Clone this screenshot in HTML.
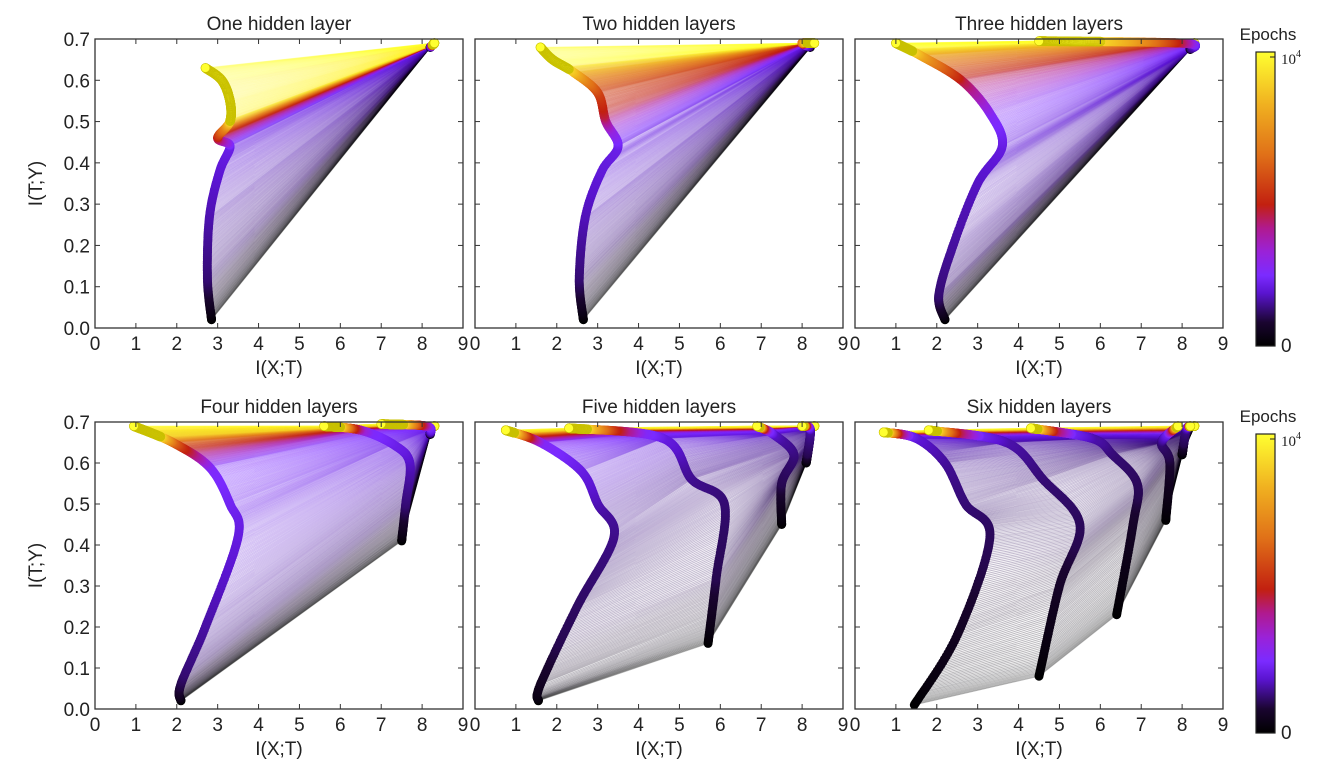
<!DOCTYPE html>
<html><head><meta charset="utf-8">
<style>
html,body{margin:0;padding:0;background:#fff;}
svg{display:block;font-family:"Liberation Sans","DejaVu Sans",sans-serif;}
</style></head>
<body>
<svg id="s" width="1324" height="772" xmlns="http://www.w3.org/2000/svg">
<defs>
<linearGradient id="cb" x1="0" y1="1" x2="0" y2="0">
<stop offset="0" stop-color="#000000"/>
<stop offset="0.08" stop-color="#1a0530"/>
<stop offset="0.18" stop-color="#5a14d0"/>
<stop offset="0.24" stop-color="#7b2bff"/>
<stop offset="0.32" stop-color="#9a22d8"/>
<stop offset="0.40" stop-color="#b01a90"/>
<stop offset="0.48" stop-color="#c22010"/>
<stop offset="0.65" stop-color="#e07018"/>
<stop offset="0.82" stop-color="#f0b020"/>
<stop offset="1" stop-color="#ffff30"/>
</linearGradient>
</defs>
<g id="plots"></g>
</svg>
<script>
var stops=[[0,[0,0,0]],[0.08,[26,5,48]],[0.18,[90,20,208]],[0.24,[123,43,255]],[0.32,[154,34,216]],[0.40,[176,26,144]],[0.48,[194,32,16]],[0.65,[224,112,24]],[0.82,[240,176,32]],[1,[255,255,48]]];
function cmap(t){t=Math.max(0,Math.min(1,t));for(var i=1;i<stops.length;i++){if(t<=stops[i][0]){var a=stops[i-1],b=stops[i];var f=(t-a[0])/(b[0]-a[0]);var c=a[1].map(function(v,k){return Math.round(v+(b[1][k]-v)*f);});return 'rgb('+c.join(',')+')';}}return 'rgb(255,255,48)';}
function lin(kp,t){for(var i=1;i<kp.length;i++){if(t<=kp[i][0]){var a=kp[i-1],b=kp[i];var f=(t-a[0])/((b[0]-a[0])||1);return a[1]+(b[1]-a[1])*f;}}return kp[kp.length-1][1];}
function interp(kp,t){ if(kp.length==1)return [kp[0][0],kp[0][1]];
 var n=kp.length;
 for(var i=1;i<n;i++){ if(t<=kp[i][2]||i==n-1){
   var p1=kp[i-1],p2=kp[i],p0=kp[Math.max(0,i-2)],p3=kp[Math.min(n-1,i+1)];
   var f=(t-p1[2])/((p2[2]-p1[2])||1);f=Math.max(0,Math.min(1,f));
   var f2=f*f,f3=f2*f;
   function cr(a,b,c,d){return 0.5*((2*b)+(-a+c)*f+(2*a-5*b+4*c-d)*f2+(-a+3*b-3*c+d)*f3);}
   return [cr(p0[0],p1[0],p2[0],p3[0]),cr(p0[1],p1[1],p2[1],p3[1])];}}
}
var panels=[
 {x0:95,y0:39,x1:463,y1:328,title:"One hidden layer",ylab:true,
  ct:[[0,0],[0.1,0.12],[0.33,0.21],[0.45,0.45],[0.55,0.7],[0.62,0.97],[1,1]],layers:[
  [[8.2,0.68,0],[8.3,0.69,1]],
  [[2.85,0.02,0],[2.75,0.12,0.1],[2.8,0.27,0.2],[3.05,0.38,0.27],[3.3,0.44,0.33],[3.0,0.46,0.45],[3.3,0.5,0.6],[3.3,0.55,0.75],[3.1,0.6,0.88],[2.7,0.63,1]]]},
 {x0:475,y0:39,x1:843,y1:328,title:"Two hidden layers",ylab:false,
  ct:[[0,0],[0.1,0.12],[0.3,0.21],[0.38,0.3],[0.45,0.45],[0.55,0.55],[0.65,0.68],[0.75,0.85],[0.82,1],[1,1]],layers:[
  [[8.2,0.68,0],[8.0,0.69,0.6],[8.3,0.69,1]],
  [[2.65,0.02,0],[2.55,0.12,0.1],[2.7,0.27,0.2],[3.1,0.38,0.26],[3.5,0.44,0.3],[3.2,0.5,0.42],[3.0,0.57,0.55],[2.4,0.62,0.75],[1.9,0.65,0.88],[1.6,0.68,1]]]},
 {x0:855,y0:39,x1:1223,y1:328,title:"Three hidden layers",ylab:false,
  ct:[[0,0],[0.1,0.12],[0.3,0.2],[0.4,0.26],[0.52,0.45],[0.7,0.8],[0.85,1],[1,1]],layers:[
  [[8.25,0.68,0],[8.3,0.69,1]],
  [[8.2,0.675,0],[8.0,0.69,0.5],[4.5,0.695,1]],
  [[2.2,0.02,0],[2.05,0.08,0.1],[2.4,0.2,0.17],[3.0,0.35,0.23],[3.6,0.44,0.3],[3.3,0.52,0.4],[2.6,0.6,0.52],[1.6,0.66,0.7],[1.0,0.69,1]]]},
 {x0:95,y0:422,x1:463,y1:709,title:"Four hidden layers",ylab:true,
  ct:[[0,0],[0.1,0.12],[0.26,0.2],[0.45,0.25],[0.6,0.5],[0.75,0.9],[1,1]],layers:[
  [[8.3,0.69,0],[8.3,0.69,1]],
  [[8.2,0.67,0],[8.1,0.69,0.5],[7.0,0.695,1]],
  [[7.5,0.41,0],[7.6,0.5,0.1],[7.7,0.6,0.2],[7.3,0.645,0.3],[6.5,0.68,0.5],[5.6,0.69,1]],
  [[2.1,0.02,0],[2.1,0.06,0.08],[2.7,0.2,0.16],[3.5,0.42,0.26],[3.3,0.5,0.34],[2.8,0.59,0.45],[1.9,0.65,0.65],[0.95,0.69,1]]]},
 {x0:475,y0:422,x1:843,y1:709,title:"Five hidden layers",ylab:false,
  ct:[[0,0],[0.1,0.1],[0.3,0.15],[0.4,0.2],[0.55,0.26],[0.7,0.5],[0.85,0.9],[1,1]],layers:[
  [[8.3,0.69,0],[8.3,0.69,1]],
  [[8.1,0.6,0],[8.2,0.68,0.3],[8.0,0.69,1]],
  [[7.5,0.45,0],[7.5,0.55,0.1],[7.8,0.62,0.2],[7.3,0.67,0.35],[6.9,0.69,1]],
  [[5.7,0.16,0],[5.9,0.32,0.1],[6.1,0.5,0.18],[5.3,0.56,0.25],[4.6,0.66,0.4],[2.3,0.685,1]],
  [[1.55,0.02,0],[1.6,0.06,0.05],[2.5,0.25,0.14],[3.4,0.42,0.24],[3.0,0.5,0.32],[2.6,0.58,0.4],[1.6,0.65,0.55],[0.75,0.68,1]]]},
 {x0:855,y0:422,x1:1223,y1:709,title:"Six hidden layers",ylab:false,
  ct:[[0,0],[0.15,0.1],[0.3,0.13],[0.45,0.17],[0.6,0.22],[0.75,0.45],[0.9,0.9],[1,1]],layers:[
  [[8.3,0.69,0],[8.3,0.69,1]],
  [[8.0,0.62,0],[8.1,0.68,0.3],[8.2,0.69,1]],
  [[7.6,0.46,0],[7.7,0.6,0.12],[7.5,0.65,0.25],[7.9,0.69,1]],
  [[6.4,0.23,0],[6.8,0.45,0.1],[6.9,0.55,0.18],[6.3,0.62,0.26],[5.8,0.66,0.4],[4.3,0.685,1]],
  [[4.5,0.08,0],[5.0,0.3,0.1],[5.5,0.45,0.18],[4.6,0.56,0.26],[3.7,0.65,0.4],[1.8,0.68,1]],
  [[1.45,0.01,0],[2.5,0.18,0.08],[3.3,0.42,0.18],[2.7,0.5,0.26],[2.2,0.6,0.35],[1.5,0.66,0.5],[0.7,0.675,1]]]}
];
var out=[];
panels.forEach(function(p){
 var sx=function(x){return p.x0+(p.x1-p.x0)*x/9;}, sy=function(y){return p.y1-(p.y1-p.y0)*y/0.7;};
 var cid='c'+p.x0+'_'+p.y0;
 out.push('<defs><clipPath id="'+cid+'"><rect x="'+p.x0+'" y="'+(p.y0-8)+'" width="'+(p.x1-p.x0+8)+'" height="'+(p.y1-p.y0+8)+'"/></clipPath></defs>');
 out.push('<g clip-path="url(#'+cid+')">');
 var N=500;
 for(var i=0;i<=N;i++){var t=i/N;var c=lin(p.ct,t);var col=cmap(c);var pts=p.layers.map(function(L){var q=interp(L,t);return sx(q[0]).toFixed(1)+','+sy(q[1]).toFixed(1);});
  out.push('<polyline points="'+pts.join(' ')+'" fill="none" stroke="'+col+'" stroke-opacity="'+(c>0.95?0.12:0.28)+'" stroke-width="1"/>');}
 p.layers.forEach(function(L){ if(L.length<2)return; var M=350;
  for(var i=0;i<=M;i++){var t=i/M;var q=interp(L,t);var c=lin(p.ct,t);var big=c>0.9;
   out.push('<circle cx="'+sx(q[0]).toFixed(1)+'" cy="'+sy(q[1]).toFixed(1)+'" r="4.5" fill="'+cmap(c)+'"'+(big?' stroke="#c8c000" stroke-width="0.6"':'')+'/>');}
 });
 out.push('</g>');
 out.push('<rect x="'+p.x0+'" y="'+p.y0+'" width="'+(p.x1-p.x0)+'" height="'+(p.y1-p.y0)+'" fill="none" stroke="#333" stroke-width="1.3"/>');
 for(var k=0;k<=9;k++){var x=sx(k);out.push('<line x1="'+x+'" y1="'+p.y1+'" x2="'+x+'" y2="'+(p.y1-5)+'" stroke="#333"/><line x1="'+x+'" y1="'+p.y0+'" x2="'+x+'" y2="'+(p.y0+5)+'" stroke="#333"/>');
  out.push('<text x="'+x+'" y="'+(p.y1+22)+'" font-size="19" text-anchor="middle" fill="#222">'+k+'</text>');}
 for(var k=0;k<=7;k++){var y=sy(k/10);out.push('<line x1="'+p.x0+'" y1="'+y+'" x2="'+(p.x0+5)+'" y2="'+y+'" stroke="#333"/><line x1="'+p.x1+'" y1="'+y+'" x2="'+(p.x1-5)+'" y2="'+y+'" stroke="#333"/>');
  if(p.ylab)out.push('<text x="'+(p.x0-5)+'" y="'+(y+7)+'" font-size="19" text-anchor="end" fill="#222">'+(k/10).toFixed(1)+'</text>');}
 out.push('<text x="'+((p.x0+p.x1)/2)+'" y="'+(p.y0-9)+'" font-size="19" text-anchor="middle" fill="#222">'+p.title+'</text>');
 out.push('<text x="'+((p.x0+p.x1)/2)+'" y="'+(p.y1+46)+'" font-size="19" text-anchor="middle" fill="#222">I(X;T)</text>');
 if(p.ylab)out.push('<text transform="translate(42,'+((p.y0+p.y1)/2)+') rotate(-90)" font-size="19" text-anchor="middle" fill="#222">I(T;Y)</text>');
});
[[52,346],[434,733]].forEach(function(c){
 out.push('<rect x="1256" y="'+c[0]+'" width="19" height="'+(c[1]-c[0])+'" fill="url(#cb)" stroke="#222" stroke-width="1.2"/>');
 out.push('<line x1="1270" y1="'+(c[0]+5)+'" x2="1275" y2="'+(c[0]+5)+'" stroke="#222"/>');
 out.push('<text x="1268" y="'+(c[0]-12)+'" font-size="17" text-anchor="middle" fill="#222">Epochs</text>');
 out.push('<text x="1281" y="'+(c[0]+12)+'" font-size="15" font-family="Liberation Serif,serif" fill="#222">10<tspan font-size="10" dy="-7">4</tspan></text>');
 out.push('<text x="1281" y="'+(c[1]+6)+'" font-size="19" fill="#222">0</text>');
});
document.getElementById('plots').innerHTML=out.join('');
</script>
</body></html>
